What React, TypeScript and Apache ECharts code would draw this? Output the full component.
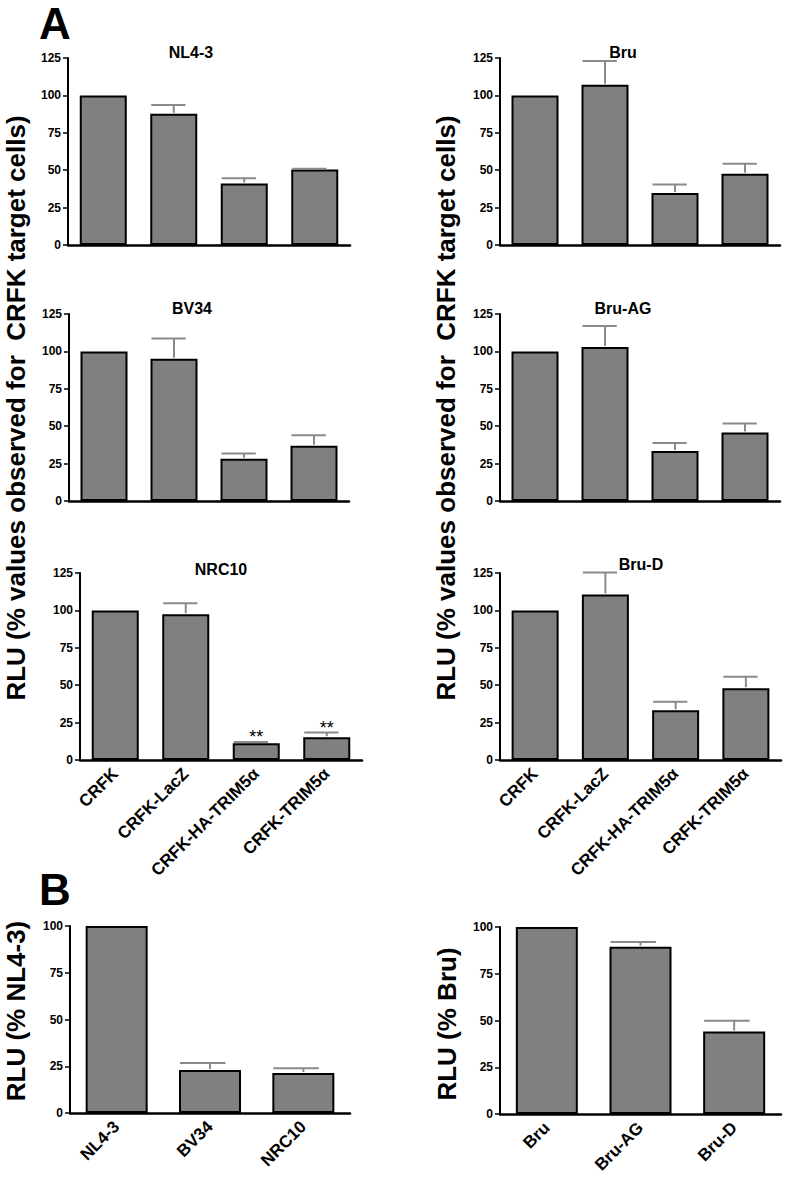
import React, { useEffect, useRef } from "react";
import * as echarts from "echarts";

// ---------- data ----------
const cellLines = ["CRFK", "CRFK-LacZ", "CRFK-HA-TRIM5α", "CRFK-TRIM5α"];
const virusesNL = ["NL4-3", "BV34", "NRC10"];
const virusesBru = ["Bru", "Bru-AG", "Bru-D"];
const yTicksA = [0, 25, 50, 75, 100, 125];
const yTicksB = [0, 25, 50, 75, 100];

const nl43 = [100, 87.7, 41.1, 50.4];
const nl43Sem = [0, 5.8, 3.5, 0.5];
const bru = [100, 107.2, 34.7, 47.6];
const bruSem = [0, 15.8, 5.8, 6.7];
const bv34 = [100, 95.1, 28.2, 36.9];
const bv34Sem = [0, 13.6, 3.6, 7.1];
const bruAG = [100, 102.9, 33.5, 45.8];
const bruAGSem = [0, 14.1, 5.3, 6.0];
const nrc10 = [100, 97.5, 11.2, 15.2];
const nrc10Sem = [0, 7.2, 0.8, 3.1];
const nrc10Sig = ["", "", "**", "**"];
const bruD = [100, 110.7, 33.3, 48.0];
const bruDSem = [0, 14.7, 5.7, 7.6];
const nlRel = [100, 23.0, 21.4];
const nlRelSem = [0, 3.7, 2.5];
const bruRel = [100, 89.5, 44.1];
const bruRelSem = [0, 2.5, 5.7];

const yTitleA = "RLU (% values observed for  CRFK target cells)";
const yTitleBLeft = "RLU (% NL4-3)";
const yTitleBRight = "RLU (% Bru)";

// ---------- layout ----------
const FONT = "'Liberation Sans', Arial, Helvetica, sans-serif";
const BAR_FILL = "#808080";
const ERR_COLOR = "#8a8a8a";

type Panel = {
  title?: string;
  cats: string[];
  values: number[];
  sem: number[];
  sig?: string[];
  grid: [number, number, number, number];
  ticks: number[];
  showX: boolean;
  barW: number;
  titlePos?: [number, number];
};

const panels: Panel[] = [
  { title: virusesNL[0], cats: cellLines, values: nl43, sem: nl43Sem, grid: [68, 58, 282, 187], ticks: yTicksA, showX: false, barW: 47, titlePos: [191, 52] },
  { title: virusesBru[0], cats: cellLines, values: bru, sem: bruSem, grid: [500, 58, 280, 187], ticks: yTicksA, showX: false, barW: 47, titlePos: [623, 52] },
  { title: virusesNL[1], cats: cellLines, values: bv34, sem: bv34Sem, grid: [69, 314, 280, 187], ticks: yTicksA, showX: false, barW: 47, titlePos: [192, 308] },
  { title: virusesBru[1], cats: cellLines, values: bruAG, sem: bruAGSem, grid: [500, 314, 280, 187], ticks: yTicksA, showX: false, barW: 47, titlePos: [623, 308] },
  { title: virusesNL[2], cats: cellLines, values: nrc10, sem: nrc10Sem, sig: nrc10Sig, grid: [80, 573, 282, 187], ticks: yTicksA, showX: true, barW: 47, titlePos: [221, 569] },
  { title: virusesBru[2], cats: cellLines, values: bruD, sem: bruDSem, grid: [500, 573, 281, 187], ticks: yTicksA, showX: true, barW: 47, titlePos: [641, 564] },
  { cats: virusesNL, values: nlRel, sem: nlRelSem, grid: [70, 926, 280, 187], ticks: yTicksB, showX: true, barW: 62 },
  { cats: virusesBru, values: bruRel, sem: bruRelSem, grid: [500, 927, 281, 187], ticks: yTicksB, showX: true, barW: 62 },
];

function buildOption() {
  const grid: any[] = [];
  const xAxis: any[] = [];
  const yAxis: any[] = [];
  const series: any[] = [];
  const graphic: any[] = [];

  panels.forEach((p, k) => {
    const [left, top, width, height] = p.grid;
    grid.push({ left, top, width, height, containLabel: false });
    xAxis.push({
      gridIndex: k,
      type: "category",
      data: p.cats,
      axisLine: { show: true, lineStyle: { color: "#000", width: 2.5 } },
      axisTick: { show: false },
      axisLabel: {
        show: p.showX,
        rotate: 45,
        interval: 0,
        fontSize: 17,
        fontWeight: "bold",
        color: "#000",
        fontFamily: FONT,
        margin: 11,
      },
      splitLine: { show: false },
    });
    yAxis.push({
      gridIndex: k,
      type: "value",
      min: p.ticks[0],
      max: p.ticks[p.ticks.length - 1],
      interval: p.ticks[1] - p.ticks[0],
      axisLine: { show: true, lineStyle: { color: "#000", width: 2 } },
      axisTick: { show: true, length: 5, lineStyle: { color: "#000", width: 1.5 } },
      axisLabel: { fontSize: 12, fontWeight: "bold", color: "#000", fontFamily: FONT, margin: 7 },
      splitLine: { show: false },
    });
    series.push({
      type: "bar",
      xAxisIndex: k,
      yAxisIndex: k,
      data: p.values,
      barWidth: p.barW,
      itemStyle: { color: BAR_FILL, borderColor: "#000", borderWidth: 2 },
      z: 2,
    });
    const barW = p.barW;
    series.push({
      type: "custom",
      xAxisIndex: k,
      yAxisIndex: k,
      data: p.values.map((v, i) => [i, v, p.sem[i]]),
      encode: { x: 0, y: 1 },
      z: 3,
      renderItem: (params: any, api: any) => {
        const i = api.value(0);
        const v = api.value(1);
        const e = api.value(2);
        if (!e) return { type: "group", children: [] };
        const base = api.coord([i, v]);
        const tp = api.coord([i, v + e]);
        const half = barW / 2;
        return {
          type: "group",
          children: [
            { type: "line", shape: { x1: base[0], y1: base[1] - 1, x2: tp[0], y2: tp[1] }, style: { stroke: ERR_COLOR, lineWidth: 2 } },
            { type: "line", shape: { x1: tp[0] - half + 1, y1: tp[1], x2: tp[0] + half * 0.5, y2: tp[1] }, style: { stroke: ERR_COLOR, lineWidth: 2 } },
          ],
        };
      },
    });
    if (p.sig) {
      const sig = p.sig;
      series.push({
        type: "custom",
        xAxisIndex: k,
        yAxisIndex: k,
        data: p.values.map((v, i) => [i, v + p.sem[i]]),
        encode: { x: 0, y: 1 },
        z: 4,
        renderItem: (params: any, api: any) => {
          const s = sig[params.dataIndex];
          if (!s) return { type: "group", children: [] };
          const tp = api.coord([api.value(0), api.value(1)]);
          return {
            type: "text",
            x: tp[0],
            y: tp[1] - 5,
            style: { text: s, fontSize: 18, fontFamily: FONT, fill: "#000", align: "center", verticalAlign: "middle" },
          };
        },
      });
    }
    if (p.title && p.titlePos) {
      graphic.push({
        type: "text",
        x: p.titlePos[0],
        y: p.titlePos[1],
        style: { text: p.title, fontSize: 16, fontWeight: "bold", fontFamily: FONT, fill: "#000", align: "center", verticalAlign: "middle" },
      });
    }
  });

  const yTitles: [string, number, number][] = [
    [yTitleA, 16, 408],
    [yTitleA, 446, 408],
    [yTitleBLeft, 16, 1011],
    [yTitleBRight, 447, 1024],
  ];
  yTitles.forEach(([t, x, y]) => {
    graphic.push({
      type: "text",
      x,
      y,
      rotation: Math.PI / 2,
      style: { text: t, fontSize: 26, fontWeight: "bold", fontFamily: FONT, fill: "#000", align: "center", verticalAlign: "middle" },
    });
  });

  graphic.push({
    type: "text",
    x: 55,
    y: 23,
    style: { text: "A", fontSize: 44, fontWeight: "bold", fontFamily: FONT, fill: "#000", align: "center", verticalAlign: "middle" },
  });
  graphic.push({
    type: "text",
    x: 55,
    y: 889,
    style: { text: "B", fontSize: 44, fontWeight: "bold", fontFamily: FONT, fill: "#000", align: "center", verticalAlign: "middle" },
  });

  return {
    animation: false,
    backgroundColor: "#fff",
    textStyle: { fontFamily: FONT },
    grid,
    xAxis,
    yAxis,
    series,
    graphic,
  };
}

export default function App() {
  const ref = useRef<HTMLDivElement>(null);
  useEffect(() => {
    if (!ref.current) return;
    const chart = echarts.init(ref.current, undefined, { renderer: "svg" });
    chart.setOption(buildOption() as any);
    return () => chart.dispose();
  }, []);
  return (
    <div
      ref={ref}
      style={{ position: "absolute", left: 0, top: 0, width: 786, height: 1178, background: "#fff" }}
    />
  );
}
